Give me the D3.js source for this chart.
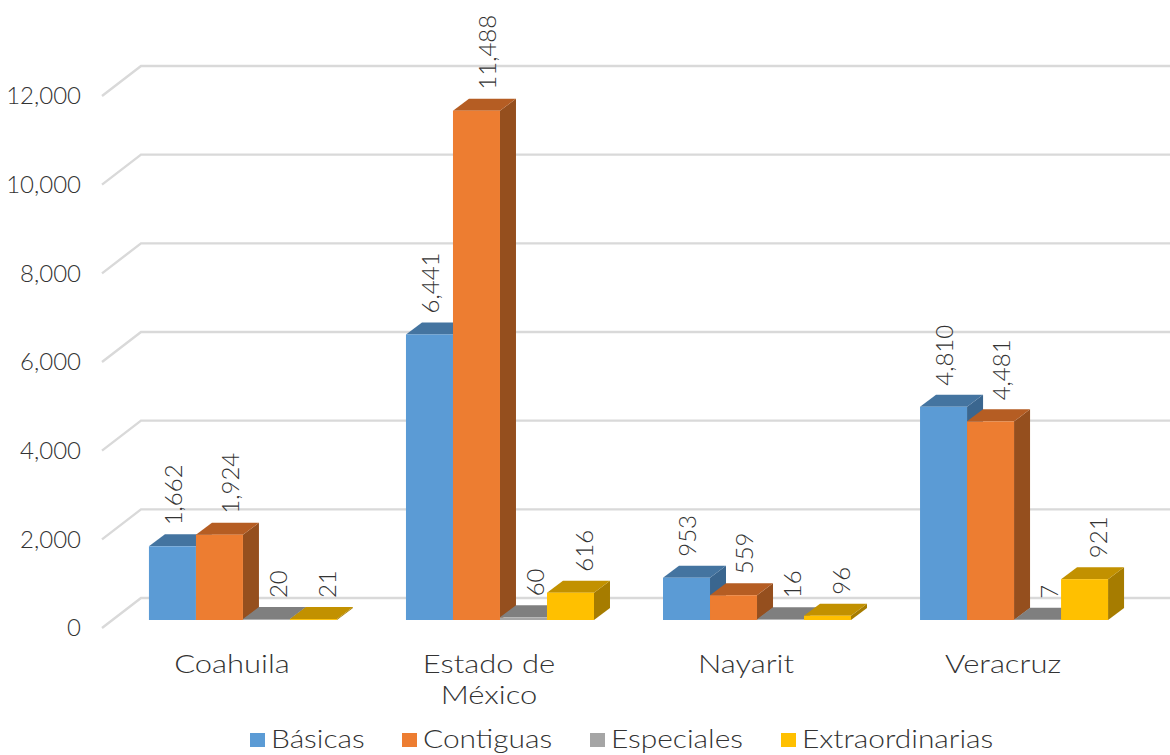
<!DOCTYPE html>
<html>
<head>
<meta charset="utf-8">
<script src="https://cdn.jsdelivr.net/npm/d3@7"></script>
<style>
  html, body { margin: 0; padding: 0; background: #fff; }
  svg { display: block; }
  text { font-family: Lato, "Open Sans", sans-serif; font-weight: 300; fill: #333; font-variant-numeric: tabular-nums; }
  .domain, .tick line { display: none; }
</style>
</head>
<body>
<script>
// Chart data
const categories = ["Coahuila", "Estado de México", "Nayarit", "Veracruz"];
const seriesNames = ["Básicas", "Contiguas", "Especiales", "Extraordinarias"];
const basicas = [1662, 6441, 953, 4810];
const contiguas = [1924, 11488, 559, 4481];
const especiales = [20, 60, 16, 7];
const extraordinarias = [21, 616, 96, 921];
const yTicks = [0, 2000, 4000, 6000, 8000, 10000, 12000];

const seriesValues = [basicas, contiguas, especiales, extraordinarias];

// Colours per series: front, top, side
const colors = ["#5B9BD5", "#ED7D31", "#A5A5A5", "#FFC000"];
const topColors = ["#4474A0", "#B55D23", "#7F7F7F", "#C29100"];
const sideColors = ["#3A668F", "#954F1E", "#6B6B6B", "#A67C00"];
const labelShift = [1, 11, 12, 14];

const width = 1170, height = 755;
const depth = { x: 16, y: -12 };    // bar depth
const wall = { x: 39, y: -30 };     // floor depth, front edge to back wall

const svg = d3.select("body").append("svg")
  .attr("width", width)
  .attr("height", height);

// The original font is wider than anything installed, so stretch the text a bit
function stretch(sel, factor) {
  sel.each(function() {
    const len = this.getComputedTextLength();
    d3.select(this)
      .attr("textLength", len * factor)
      .attr("lengthAdjust", "spacingAndGlyphs");
  });
}

// Scales
const x0 = d3.scaleBand()
  .domain(categories)
  .range([114.5, 1142.5])
  .paddingInner(0.2685)
  .paddingOuter(0.134);

const x1 = d3.scaleBand()
  .domain(seriesNames)
  .range([0, x0.bandwidth()]);

const y = d3.scaleLinear()
  .domain([0, 12000])
  .range([620, 88]);

const backY = v => y(v) + (598 - 620);

// Gridlines on the back wall with the slanted part on the left
const grid = svg.append("g");
grid.selectAll("path")
  .data(yTicks)
  .join("path")
  .attr("fill", "none")
  .attr("stroke", "#D9D9D9")
  .attr("stroke-width", 2.4)
  .attr("d", d => `M${141 - wall.x},${backY(d) - wall.y}L141,${backY(d)}L${width},${backY(d)}`);

// Y axis labels
const yAxis = d3.axisLeft(y)
  .tickValues(yTicks)
  .tickFormat(d3.format(","))
  .tickSize(0)
  .tickPadding(0);

const yAxisG = svg.append("g")
  .attr("transform", "translate(81,8)")
  .call(yAxis);
yAxisG.selectAll("text")
  .attr("dy", "0.32em")
  .style("font-size", "24px");

// Bars
categories.forEach((cat, c) => {
  const g = svg.append("g");
  seriesNames.forEach((name, s) => {
    const v = seriesValues[s][c];
    const left = x0(cat) + x1(name);
    const w = x1.bandwidth();
    const top = y(v), base = y(0);

    // side face
    g.append("path")
      .attr("fill", sideColors[s])
      .attr("d", `M${left + w},${top}L${left + w + depth.x},${top + depth.y}L${left + w + depth.x},${base + depth.y}L${left + w},${base}Z`);
    // top face
    g.append("path")
      .attr("fill", topColors[s])
      .attr("d", `M${left},${top}L${left + depth.x},${top + depth.y}L${left + w + depth.x},${top + depth.y}L${left + w},${top}Z`);
    // front face
    g.append("rect")
      .attr("x", left)
      .attr("y", top)
      .attr("width", w)
      .attr("height", base - top)
      .attr("fill", colors[s]);
  });
});

// Value labels, rotated
categories.forEach((cat, c) => {
  seriesNames.forEach((name, s) => {
    const v = seriesValues[s][c];
    const cx = x0(cat) + x1(name) + x1.bandwidth() / 2 + labelShift[s];
    const cy = y(v) + depth.y - 9;
    svg.append("text")
      .attr("transform", `translate(${cx},${cy}) rotate(-90)`)
      .attr("dy", "0.35em")
      .style("font-size", "24px")
      .text(d3.format(",")(v));
  });
});

// Category labels, wrapped when too wide
const xAxis = d3.axisBottom(x0).tickSize(0).tickPadding(0);
const xAxisG = svg.append("g")
  .attr("transform", "translate(-11,655)")
  .call(xAxis);

xAxisG.selectAll("text")
  .style("font-size", "26px")
  .attr("dy", "0.71em")
  .each(function(d) {
    const words = d.split(" ");
    if (words.length < 3) return;
    const el = d3.select(this).text(null);
    el.append("tspan").attr("x", 0).attr("dy", "0.71em").text(words.slice(0, 2).join(" "));
    el.append("tspan").attr("x", 0).attr("dy", "31px").text(words.slice(2).join(" "));
  });
stretch(xAxisG.selectAll("text").filter(function() { return !this.querySelector("tspan"); }), 1.19);
stretch(xAxisG.selectAll("tspan"), 1.19);

// Legend
const legendX = [250, 402, 590, 781];
const legend = svg.append("g");
seriesNames.forEach((name, i) => {
  legend.append("rect")
    .attr("x", legendX[i])
    .attr("y", 733)
    .attr("width", 15)
    .attr("height", 14)
    .attr("fill", colors[i]);
  legend.append("text")
    .attr("class", "legend-label")
    .attr("x", legendX[i] + 21)
    .attr("y", 748)
    .style("font-size", "26px")
    .text(name);
});
stretch(legend.selectAll(".legend-label"), 1.15);
</script>
</body>
</html>
